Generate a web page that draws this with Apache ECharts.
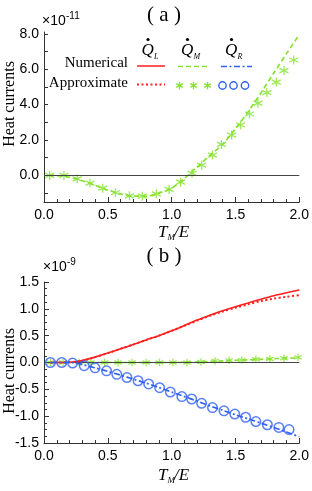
<!DOCTYPE html>
<html><head><meta charset="utf-8">
<script src="https://cdn.jsdelivr.net/npm/echarts@6/dist/echarts.min.js"></script>
<style>html,body{margin:0;padding:0;background:#fff}#c{width:312px;height:491px}</style>
</head><body><div id="c"></div>
<script>
// ---- Panel (a): heat current Q_M (units 1e-11) ----
const aNumX = [0.04,0.1,0.2,0.3,0.4,0.5,0.6,0.7,0.8,0.9,1.0,1.1,1.2,1.3,1.4,1.5,1.6,1.7,1.8,1.9,2.0];
const aNumQM = [0,-0.01,-0.1,-0.3,-0.56,-0.83,-1.04,-1.17,-1.17,-1.0,-0.72,-0.17,0.48,1.13,1.76,2.64,3.6,4.66,5.78,6.88,7.95];
const aApxX = [0.044,0.156,0.26,0.36,0.46,0.56,0.67,0.77,0.88,0.98,1.07,1.16,1.235,1.32,1.39,1.47,1.54,1.61,1.676,1.746,1.82,1.88,1.956];
const aApxQM = [0,0,-0.19,-0.43,-0.72,-0.98,-1.15,-1.17,-1.04,-0.79,-0.38,0.12,0.58,1.15,1.75,2.28,2.85,3.47,4.08,4.68,5.27,5.92,6.52];
const aYLabels = [0,2,4,6,8];
const aYTicks = [-1,0,1,2,3,4,5,6,7,8];

// ---- Panel (b): heat currents (units 1e-9) ----
const bNumX = [0.05,0.1,0.2,0.25,0.3,0.4,0.5,0.6,0.7,0.8,0.9,1.0,1.1,1.2,1.3,1.4,1.5,1.6,1.7,1.8,1.9,2.0];
const bNumQL = [0,0,0.005,0.015,0.035,0.1,0.175,0.255,0.335,0.42,0.5,0.59,0.69,0.79,0.88,0.965,1.04,1.11,1.18,1.245,1.3,1.35];
const bApxQL = [0,0,0.005,0.015,0.035,0.1,0.175,0.255,0.335,0.42,0.5,0.59,0.685,0.78,0.87,0.95,1.02,1.085,1.145,1.19,1.225,1.255];
const bNumQM = [0,0,0,0,0,0,0,0,0,0,0,0,0.005,0.01,0.02,0.03,0.04,0.05,0.06,0.07,0.08,0.09];
const bNumQR = [0,0,0,-0.01,-0.04,-0.1,-0.165,-0.235,-0.31,-0.385,-0.465,-0.55,-0.635,-0.72,-0.81,-0.89,-0.975,-1.05,-1.13,-1.21,-1.295,-1.385];
const bStarX = [0.05,0.15,0.276,0.367,0.475,0.58,0.69,0.8,0.905,1.01,1.12,1.23,1.34,1.45,1.55,1.66,1.77,1.88,1.99];
const bApxQM = [0,0,0,0,0,0,0,0,0,0,0,0.01,0.03,0.04,0.045,0.06,0.065,0.08,0.095];
const bCircX = [0.05,0.139,0.224,0.315,0.4,0.49,0.57,0.65,0.737,0.82,0.906,0.99,1.08,1.157,1.235,1.32,1.41,1.495,1.58,1.66,1.75,1.84,1.92];
const bApxQR = [0,0,-0.01,-0.06,-0.1,-0.155,-0.22,-0.28,-0.34,-0.4,-0.47,-0.55,-0.635,-0.68,-0.76,-0.84,-0.9,-0.96,-1.02,-1.1,-1.16,-1.21,-1.25];

const xTicks = [0,0.5,1.0,1.5,2.0];

const RED = '#ff1f1f', GREEN = '#86e22e', BLUE = '#3060f4', AXIS = '#333';
const STAR = 'path://M0,-10L0,10M-8.66,-5L8.66,5M-8.66,5L8.66,-5';
const SANS = '"Liberation Sans", Arial, sans-serif';
const SERIF = '"Liberation Serif", "Times New Roman", serif';

function zip(xs, ys){ return xs.map((x,i)=>[x, ys[i]]); }

function xAxisDef(gi){
  return {
    type:'value', gridIndex:gi, min:0, max:2, interval:0.5,
    axisLine:{show:true, onZero:false, lineStyle:{color:AXIS, width:1}},
    axisTick:{show:true, inside:true, length:5, lineStyle:{color:AXIS}},
    minorTick:{show:true, splitNumber:5, length:3, lineStyle:{color:AXIS}},
    splitLine:{show:false}, minorSplitLine:{show:false},
    axisLabel:{customValues:xTicks, formatter:v=>v.toFixed(1), fontSize:14, color:'#000', fontFamily:SANS, margin:6}
  };
}
const zeroLine = {silent:true, symbol:'none', animation:false, label:{show:false},
  lineStyle:{color:'#444', width:1, type:'solid'}, data:[{yAxis:0}]};

const starStyle = {color:'transparent', borderColor:GREEN, borderWidth:1.3};

const option = {
  animation:false,
  grid:[
    {left:44, top:32, width:258, height:170},
    {left:44, top:282, width:258, height:161}
  ],
  xAxis:[xAxisDef(0), xAxisDef(1)],
  yAxis:[
    {type:'value', gridIndex:0, min:-1.5, max:8.1,
     axisLine:{show:true, lineStyle:{color:AXIS, width:1}},
     axisTick:{show:true, inside:true, length:4, customValues:aYTicks, lineStyle:{color:AXIS}},
     splitLine:{show:false},
     axisLabel:{customValues:aYLabels, formatter:v=>v.toFixed(1), fontSize:14, color:'#000', fontFamily:SANS, margin:5}},
    {type:'value', gridIndex:1, min:-1.5, max:1.5, interval:0.5,
     axisLine:{show:true, lineStyle:{color:AXIS, width:1}},
     axisTick:{show:true, inside:true, length:5, lineStyle:{color:AXIS}},
     minorTick:{show:true, splitNumber:4, length:3, lineStyle:{color:AXIS}},
     splitLine:{show:false}, minorSplitLine:{show:false},
     axisLabel:{formatter:v=>v.toFixed(1), fontSize:14, color:'#000', fontFamily:SANS, margin:5}}
  ],
  series:[
    // panel a
    {type:'line', xAxisIndex:0, yAxisIndex:0, data:zip(aNumX,aNumQM), symbol:'none', smooth:0.3,
     lineStyle:{color:GREEN, width:1.7, type:[5,3]}, markLine:zeroLine, z:3},
    {type:'scatter', xAxisIndex:0, yAxisIndex:0, data:zip(aApxX,aApxQM), symbol:STAR, symbolSize:9, itemStyle:starStyle, z:4},
    // panel b
    {type:'line', xAxisIndex:1, yAxisIndex:1, data:zip(bNumX,bNumQM), symbol:'none', smooth:0.3,
     lineStyle:{color:GREEN, width:1.7, type:[5,3]}, markLine:zeroLine, z:3},
    {type:'scatter', xAxisIndex:1, yAxisIndex:1, data:zip(bStarX,bApxQM), symbol:STAR, symbolSize:7.5, itemStyle:starStyle, z:4},
    {type:'line', xAxisIndex:1, yAxisIndex:1, data:zip(bNumX,bNumQL), symbol:'none', smooth:0.3,
     lineStyle:{color:RED, width:1.6}, z:5},
    {type:'line', xAxisIndex:1, yAxisIndex:1, data:zip(bNumX,bApxQL), symbol:'none', smooth:0.3,
     lineStyle:{color:RED, width:2, type:[2,2.5]}, z:5},
    {type:'line', xAxisIndex:1, yAxisIndex:1, data:zip(bNumX,bNumQR), symbol:'none', smooth:0.3,
     lineStyle:{color:BLUE, width:1.7, type:[6,2.5,2,2.5]}, z:5},
    {type:'scatter', xAxisIndex:1, yAxisIndex:1, data:zip(bCircX,bApxQR), symbol:'circle', symbolSize:9.5,
     itemStyle:{color:'transparent', borderColor:BLUE, borderWidth:1.5}, z:6}
  ],
  graphic: buildGraphics()
};

function txt(x,y,text,font,align,va,extra){
  return Object.assign({type:'text', x:x, y:y, silent:true,
    style:{text:text, font:font, fill:'#000', align:align||'left', verticalAlign:va||'middle'}}, extra||{});
}
function legendStar(cx,cy){
  const r=3.8, els=[];
  [[0,-1,0,1],[-0.866,-0.5,0.866,0.5],[-0.866,0.5,0.866,-0.5]].forEach(s=>{
    els.push({type:'line', silent:true, shape:{x1:cx+s[0]*r,y1:cy+s[1]*r,x2:cx+s[2]*r,y2:cy+s[3]*r},
      style:{stroke:GREEN, lineWidth:1.3}});
  });
  return els;
}
function buildGraphics(){
  const g = [];
  // titles
  g.push(txt(164,15,'( a )','21px '+SERIF,'center'));
  g.push(txt(164,256,'( b )','21px '+SERIF,'center'));
  // exponents
  g.push(txt(42,21,'\u00d710','14px '+SANS,'left'));
  g.push(txt(66,16,'-11','10px '+SANS,'left'));
  g.push(txt(43,267,'\u00d710','14px '+SANS,'left'));
  g.push(txt(67,262,'-9','10px '+SANS,'left'));
  // y titles
  g.push(txt(10,104,'Heat currents','16px '+SERIF,'center','middle',{rotation:Math.PI/2}));
  g.push(txt(10,371,'Heat currents','16px '+SERIF,'center','middle',{rotation:Math.PI/2}));
  // x titles
  [233,476].forEach(y=>{
    g.push(txt(158,y,'T','italic 17px '+SERIF,'left'));
    g.push(txt(167.5,y+5,'M','italic 9px '+SERIF,'left'));
    g.push(txt(174,y,'/E','italic 17px '+SERIF,'left'));
  });
  // legend headers
  [[141.5,'L'],[181,'M'],[225,'R']].forEach(h=>{
    g.push(txt(h[0],51,'Q','italic 17px '+SERIF,'left'));
    g.push({type:'circle', silent:true, shape:{cx:h[0]+6.5, cy:39.5, r:1.6}, style:{fill:'#000'}});
    g.push(txt(h[0]+12.5,57,h[1],'italic 8px '+SERIF,'left'));
  });
  // legend rows
  g.push(txt(128,63,'Numerical','15px '+SERIF,'right'));
  g.push(txt(128,83,'Approximate','15px '+SERIF,'right'));
  g.push({type:'line', silent:true, shape:{x1:137,y1:66,x2:165,y2:66}, style:{stroke:RED, lineWidth:1.5}});
  g.push({type:'line', silent:true, shape:{x1:178,y1:66.5,x2:207,y2:66.5}, style:{stroke:GREEN, lineWidth:1.5, lineDash:[5,3]}});
  g.push({type:'line', silent:true, shape:{x1:221,y1:66.5,x2:252,y2:66.5}, style:{stroke:BLUE, lineWidth:1.5, lineDash:[6,2.5,2,2.5]}});
  g.push({type:'line', silent:true, shape:{x1:137,y1:84.5,x2:165,y2:84.5}, style:{stroke:RED, lineWidth:2, lineDash:[2,2.5]}});
  [179.5,193.5,207.5].forEach(x=>legendStar(x,85.5).forEach(e=>g.push(e)));
  [222.5,233.5,245].forEach(x=>g.push({type:'circle', silent:true, shape:{cx:x,cy:85.5,r:3.7},
    style:{fill:'none', stroke:BLUE, lineWidth:1.4}}));
  return g;
}

const chart = echarts.init(document.getElementById('c'), null, {renderer:'canvas'});
chart.setOption(option);
</script>
</body></html>
